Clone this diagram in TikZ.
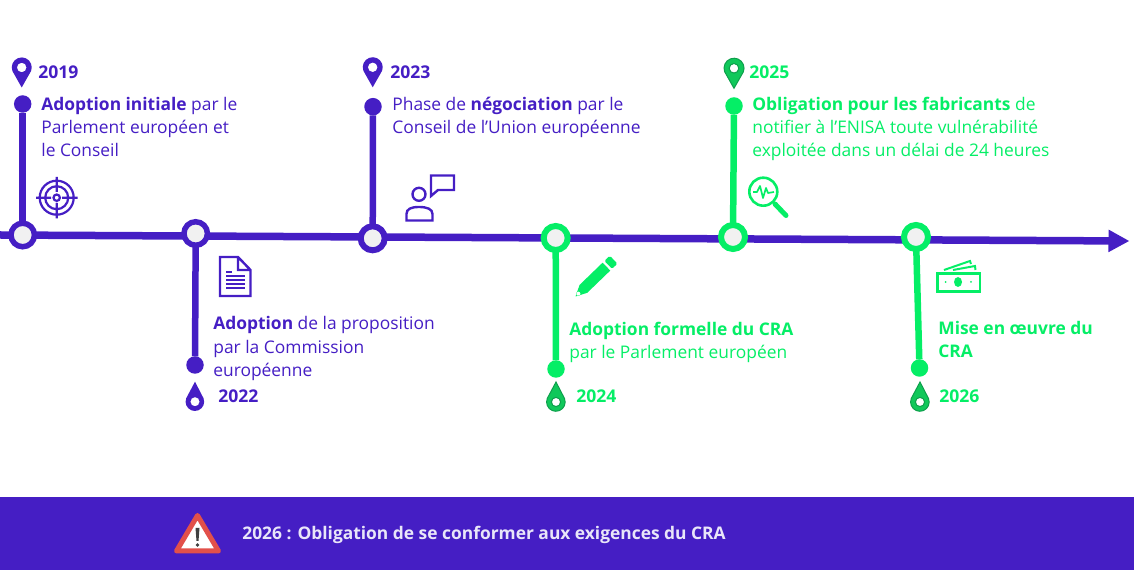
\documentclass[tikz,border=0pt]{standalone}
\usepackage{fontspec}
\setmainfont{Open Sans}
\usetikzlibrary{arrows.meta}
\definecolor{violetcra}{HTML}{451EC4}
\definecolor{greencra}{HTML}{05EE66}
\definecolor{greenpin}{HTML}{10C85A}
\definecolor{greenedge}{HTML}{0E9F4C}
\definecolor{ringfill}{HTML}{F1F1F1}
\definecolor{bannertext}{HTML}{E9E6F9}
\definecolor{warnred}{HTML}{E2504A}
\def\px{0.02cm} % one pixel of the reference
\tikzstyle{txt}=[anchor=west,inner sep=0,align=left,font=\fontsize{9.9}{13.1}\selectfont]
\tikzstyle{year}=[anchor=west,inner sep=0,font=\fontsize{10}{13}\selectfont\bfseries]
\tikzstyle{ring}=[circle,draw,fill=ringfill,inner sep=0,outer sep=0,minimum size=23.5*\px,line width=5.5*\px]
\tikzstyle{dot}=[circle,inner sep=0,outer sep=0,minimum size=17.5*\px]
\tikzstyle{stem}=[line width=6.5*\px]
\tikzstyle{icon}=[line width=1.8*\px,line join=miter]
% pins: x, y of the head centre, then the look
\def\pintop#1#2#3{\fill[#3,even odd rule] (#1,#2+20) -- (#1-9.3,#2+3.5) arc (159:381:10) -- cycle (#1,#2) circle (4.8);}
\def\pinlow#1#2#3{\fill[#3,even odd rule] (#1,#2-20) -- (#1+8.5,#2-3.5) arc (-22:202:9.3) -- cycle (#1,#2) circle (4.6);}
\begin{document}
\begin{tikzpicture}[x=\px,y=-\px]
      \useasboundingbox (0,0) rectangle (1134,570);

      % banner
      \fill[violetcra] (0,497) rectangle (1134,570);
      \fill[white,draw=warnred,line width=5*\px,line join=round] (197.5,515.5) -- (176.5,551) -- (218.5,551) -- cycle;
      \fill[black!75] (195.5,528) -- (199.5,528) -- (198.5,541) -- (196.5,541) -- cycle (197.5,545) circle (1.9);
      \node[txt,font=\fontsize{9.9}{13}\selectfont\bfseries,text=bannertext] (banner) at (242,534.5) {2026 : Obligation de se conformer aux exigences du CRA};

      % main axis
      \coordinate (axisstart) at (0,235);
      \coordinate (axisend) at (1129.5,241);
      \draw[violetcra,line width=7.5*\px,-{Triangle[length=21*\px,width=21*\px]}] (axisstart) -- (axisend);

      % rings on the axis
      \node[ring,draw=violetcra] (r2019) at (22.7,235) {};
      \node[ring,draw=violetcra] (r2022) at (195.7,233.5) {};
      \node[ring,draw=violetcra,minimum size=24*\px,line width=6*\px] (r2023) at (372.7,238.3) {};
      \node[ring,draw=greencra,minimum size=24*\px,line width=6*\px] (r2024) at (555.7,238) {};
      \node[ring,draw=greencra,minimum size=24*\px,line width=6*\px] (r2025) at (733,237) {};
      \node[ring,draw=greencra,minimum size=24*\px,line width=6*\px] (r2026) at (916,237) {};

      % end dots
      \node[dot,fill=violetcra] (d2019) at (22.7,104) {};
      \node[dot,fill=violetcra] (d2022) at (195,365) {};
      \node[dot,fill=violetcra] (d2023) at (373,106.7) {};
      \node[dot,fill=greencra] (d2024) at (556,369) {};
      \node[dot,fill=greencra] (d2025) at (734,106) {};
      \node[dot,fill=greencra] (d2026) at (919.5,368) {};

      % stems
      \draw[stem,violetcra] (r2019) -- (d2019);
      \draw[stem,violetcra] (r2022) -- (d2022);
      \draw[stem,violetcra] (r2023) -- (d2023);
      \draw[stem,greencra] (r2024) -- (d2024);
      \draw[stem,greencra] (r2025) -- (d2025);
      \draw[stem,greencra] (r2026) -- (d2026);

      % pins
      \pintop{21.7}{67.5}{violetcra}
      \pinlow{195}{401.7}{violetcra}
      \pintop{372.7}{67.3}{violetcra}
      \pinlow{556}{402}{greenpin,draw=greenedge,line width=\px}
      \pintop{734}{68.3}{greenpin,draw=greenedge,line width=\px}
      \pinlow{920}{402}{greenpin,draw=greenedge,line width=\px}

      % years
      \node[year,text=violetcra] (y2019) at (38,72) {2019};
      \node[year,text=violetcra] (y2022) at (218,396) {2022};
      \node[year,text=violetcra] (y2023) at (390,72) {2023};
      \node[year,text=greencra] (y2024) at (576,396) {2024};
      \node[year,text=greencra] (y2025) at (749,72) {2025};
      \node[year,text=greencra] (y2026) at (939,396) {2026};

      % texts
      \node[txt,text=violetcra] (t2019) at (41,126.5) {\textbf{Adoption initiale} par le\\Parlement européen et\\le Conseil};
      \node[txt,text=violetcra] (t2022) at (213,348.5) {\textbf{Adoption} de la proposition\\par la Commission\\européenne};
      \node[txt,text=violetcra] (t2023) at (392,117) {Phase de \textbf{négociation} par le\\Conseil de l\symbol{39}Union européenne};
      \node[txt,text=greencra] (t2024) at (569,342) {\textbf{Adoption formelle du CRA}\\par le Parlement européen};
      \node[txt,text=greencra] (t2025) at (752,128.5) {\textbf{Obligation pour les fabricants} de\\notifier à l\symbol{39}ENISA toute vulnérabilité\\exploitée dans un délai de 24 heures};
      \node[txt,text=greencra] (t2026) at (938,339.5) {\textbf{Mise en œuvre du}\\\textbf{CRA}};

      % icon target
      \draw[icon,violetcra,line width=2.2*\px] (56.7,197.7) circle (17) (56.7,197.7) circle (11.5) (56.7,197.7) circle (3.2)
         (36,197.7) -- (51,197.7) (62,197.7) -- (77.5,197.7) (56.7,177) -- (56.7,192) (56.7,203) -- (56.7,218.5);

      % icon document
      \draw[icon,violetcra,line width=2.4*\px] (220,257) -- (238,257) -- (250.5,270) -- (250.5,296) -- (220,296) -- cycle (238,257) -- (238,270) -- (250.5,270);
      \draw[icon,violetcra] (226,272) -- (232,272) (226,276) -- (245,276) (226,280) -- (245,280) (226,284) -- (245,284) (226,288) -- (245,288);

      % icon speaker
      \draw[icon,violetcra,line width=2.4*\px] (419,194.3) circle (6.5);
      \draw[icon,violetcra,line width=2.4*\px] (406.5,220.5) -- (406.5,214) .. controls (406.5,209) and (411,207) .. (419,207) .. controls (427,207) and (432.5,209) .. (432.5,214) -- (432.5,220.5) -- cycle;
      \draw[icon,violetcra,line width=2.4*\px] (431,175.5) -- (454,175.5) -- (454,190) -- (438,190) -- (431,196) -- cycle;

      % icon pencil
      \begin{scope}[shift={(575.5,296.5)},rotate=44]
         \fill[greencra,even odd rule] (0,0) -- (11,-5.5) -- (43,-5.5) -- (43,5.5) -- (11,5.5) -- cycle (4,0) circle (2.2);
         \fill[greencra,rounded corners=1.5*\px] (45.5,-5.5) rectangle (53,5.5);
      \end{scope}

      % icon magnifier
      \draw[greencra,line width=2.6*\px] (763.3,191.7) circle (14);
      \draw[greencra,line width=5*\px,line cap=round] (775,204) -- (786,215.5);
      \draw[greencra,line width=1.7*\px,line join=round] (753,192) -- (757,192) -- (760,186) -- (763,198) -- (766,188) -- (768,193) -- (774,192);

      % icon banknotes
      \draw[greencra,line width=2.4*\px] (937.5,273.5) rectangle (980,291.5);
      \fill[greencra] (958,282) ellipse (4 and 5) (945.7,282) circle (1) (971,282) circle (1);
      \draw[greencra,line width=2*\px] (944,270) -- (970,261) -- (971,264) (953,270) -- (975,266) -- (975.5,270);

\end{tikzpicture}
\end{document}
